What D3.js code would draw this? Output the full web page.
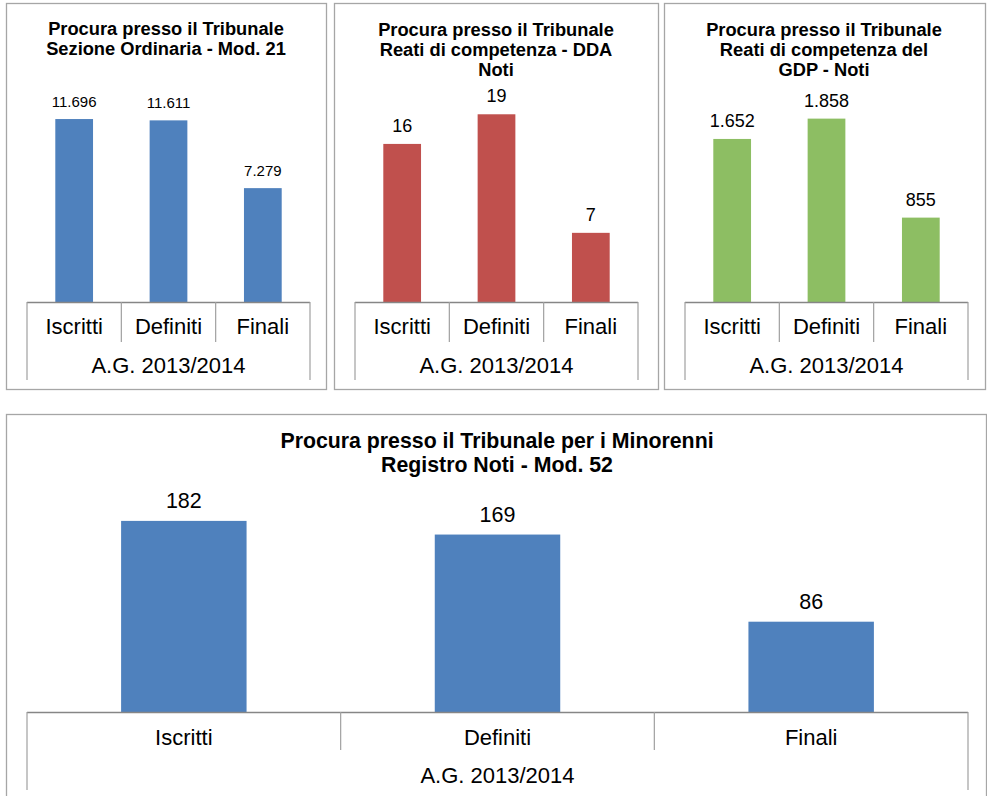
<!DOCTYPE html>
<html>
<head>
<meta charset="utf-8">
<script src="https://cdn.jsdelivr.net/npm/d3@7"></script>
<style>
  html, body { margin: 0; padding: 0; background: #fff; }
  svg { display: block; font-family: "Liberation Sans", Arial, sans-serif; }
</style>
</head>
<body>
<svg id="chart" width="987" height="796"></svg>
<script>
// ---- Data ----
const categories = ["Iscritti", "Definiti", "Finali"];
const groupLabel = "A.G. 2013/2014";

const titleOrdinaria = ["Procura presso il Tribunale", "Sezione Ordinaria - Mod. 21"];
const valuesOrdinaria = [11696, 11611, 7279];

const titleDDA = ["Procura presso il Tribunale", "Reati di competenza - DDA", "Noti"];
const valuesDDA = [16, 19, 7];

const titleGDP = ["Procura presso il Tribunale", "Reati di competenza del", "GDP - Noti"];
const valuesGDP = [1652, 1858, 855];

const titleMinori = ["Procura presso il Tribunale per i Minorenni", "Registro Noti - Mod. 52"];
const valuesMinori = [182, 169, 86];

// ---- Drawing ----
const itLocale = d3.formatLocale({decimal: ",", thousands: ".", grouping: [3], currency: ["€", ""]});
const fmt = itLocale.format(",d");
const svg = d3.select("#chart");

function drawPanel(cfg) {
  const g = svg.append("g");
  // panel border
  g.append("rect")
    .attr("x", cfg.box[0] + 0.5).attr("y", cfg.box[1] + 0.5)
    .attr("width", cfg.box[2] - cfg.box[0]).attr("height", cfg.box[3] - cfg.box[1])
    .attr("fill", "#fff").attr("stroke", "#a6a6a6").attr("stroke-width", 1.3);

  // title
  const t = g.append("text")
    .attr("text-anchor", "middle")
    .attr("font-weight", "bold")
    .attr("font-size", cfg.titleSize)
    .attr("fill", "#000");
  cfg.title.forEach((line, i) => {
    t.append("tspan").attr("x", cfg.titleX).attr("y", cfg.titleY + i * cfg.titleLH).text(line);
  });

  const x = d3.scaleBand().domain(categories).range(cfg.xRange);
  const y = d3.scaleLinear().domain(cfg.yDomain).range([cfg.base, cfg.yTop]);
  const bw = x.bandwidth() * 0.4;

  // bars
  g.selectAll("rect.bar").data(cfg.values).join("rect")
    .attr("class", "bar")
    .attr("x", (d, i) => x(categories[i]) + (x.bandwidth() - bw) / 2)
    .attr("y", d => y(d))
    .attr("width", bw)
    .attr("height", d => y(0) - y(d))
    .attr("fill", cfg.color);

  // data labels
  g.selectAll("text.lbl").data(cfg.values).join("text")
    .attr("class", "lbl")
    .attr("x", (d, i) => x(categories[i]) + x.bandwidth() / 2)
    .attr("y", d => y(d) - cfg.labelGap)
    .attr("text-anchor", "middle")
    .attr("font-size", cfg.labelSize)
    .attr("fill", "#000")
    .text(d => fmt(d));

  // axis line
  g.append("line")
    .attr("x1", cfg.xRange[0]).attr("x2", cfg.xRange[1])
    .attr("y1", cfg.base + 0.5).attr("y2", cfg.base + 0.5)
    .attr("stroke", "#868686").attr("stroke-width", 1.5);

  // inner dividers
  categories.slice(1).forEach(c => {
    g.append("line")
      .attr("x1", x(c)).attr("x2", x(c))
      .attr("y1", cfg.base).attr("y2", cfg.catDivEnd)
      .attr("stroke", "#a0a0a0").attr("stroke-width", 1.2);
  });
  // outer dividers
  cfg.xRange.forEach(xx => {
    g.append("line")
      .attr("x1", xx).attr("x2", xx)
      .attr("y1", cfg.base).attr("y2", cfg.outerDivEnd)
      .attr("stroke", "#a0a0a0").attr("stroke-width", 1.2);
  });

  // category labels
  g.selectAll("text.cat").data(categories).join("text")
    .attr("class", "cat")
    .attr("x", d => x(d) + x.bandwidth() / 2)
    .attr("y", cfg.catY)
    .attr("text-anchor", "middle")
    .attr("font-size", cfg.catSize)
    .attr("fill", "#000")
    .text(d => d);

  // group label
  g.append("text")
    .attr("x", (cfg.xRange[0] + cfg.xRange[1]) / 2)
    .attr("y", cfg.groupY)
    .attr("text-anchor", "middle")
    .attr("font-size", cfg.catSize)
    .attr("fill", "#000")
    .text(groupLabel);
}

drawPanel({
  box: [6, 3, 326, 389], title: titleOrdinaria, titleX: 166, titleY: 35, titleLH: 20, titleSize: 18.3,
  values: valuesOrdinaria, color: "#4F81BD", yDomain: [0, 14000],
  xRange: [27, 310], base: 302, yTop: 83, labelSize: 15, labelGap: 12,
  catY: 334, groupY: 373, catSize: 22, catDivEnd: 342, outerDivEnd: 380
});
drawPanel({
  box: [334, 3, 658, 389], title: titleDDA, titleX: 496, titleY: 36, titleLH: 20, titleSize: 18.3,
  values: valuesDDA, color: "#C0504D", yDomain: [0, 20],
  xRange: [355, 638], base: 302, yTop: 104.4, labelSize: 18, labelGap: 12,
  catY: 334, groupY: 373, catSize: 22, catDivEnd: 342, outerDivEnd: 380
});
drawPanel({
  box: [664, 3, 985, 389], title: titleGDP, titleX: 824, titleY: 36, titleLH: 20, titleSize: 18.3,
  values: valuesGDP, color: "#8DBE63", yDomain: [0, 2000],
  xRange: [685, 968], base: 302, yTop: 104.6, labelSize: 18, labelGap: 12,
  catY: 334, groupY: 373, catSize: 22, catDivEnd: 342, outerDivEnd: 380
});
drawPanel({
  box: [6, 414, 986, 810], title: titleMinori, titleX: 497, titleY: 448, titleLH: 24, titleSize: 21.3,
  values: valuesMinori, color: "#4F81BD", yDomain: [0, 200],
  xRange: [27, 968], base: 712, yTop: 502, labelSize: 21.5, labelGap: 12.5,
  catY: 745, groupY: 783, catSize: 22, catDivEnd: 750, outerDivEnd: 790
});
</script>
</body>
</html>
